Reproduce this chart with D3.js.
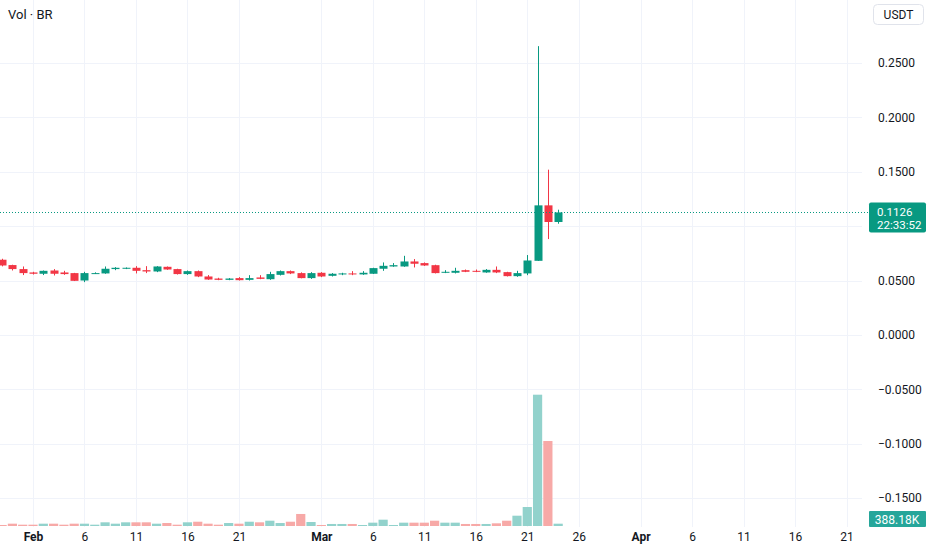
<!DOCTYPE html>
<html lang="en">
<head>
    <meta charset="UTF-8">
    <title>BR / USDT</title>
    <script src="https://d3js.org/d3.v7.min.js"></script>
    <style>
        body { margin: 0; background: #ffffff; }
        text { font-family: Roboto, "Noto Sans", sans-serif; }
    </style>
</head>
<body>
<script>
// daily candles, 2023-01-29 .. 2023-03-24
var dates = [
    "2023-01-29","2023-01-30","2023-01-31","2023-02-01","2023-02-02","2023-02-03","2023-02-04",
    "2023-02-05","2023-02-06","2023-02-07","2023-02-08","2023-02-09","2023-02-10","2023-02-11",
    "2023-02-12","2023-02-13","2023-02-14","2023-02-15","2023-02-16","2023-02-17","2023-02-18",
    "2023-02-19","2023-02-20","2023-02-21","2023-02-22","2023-02-23","2023-02-24","2023-02-25",
    "2023-02-26","2023-02-27","2023-02-28","2023-03-01","2023-03-02","2023-03-03","2023-03-04",
    "2023-03-05","2023-03-06","2023-03-07","2023-03-08","2023-03-09","2023-03-10","2023-03-11",
    "2023-03-12","2023-03-13","2023-03-14","2023-03-15","2023-03-16","2023-03-17","2023-03-18",
    "2023-03-19","2023-03-20","2023-03-21","2023-03-22","2023-03-23","2023-03-24"
];
var opens = [
    0.0691,0.0642,0.0605,0.0574,0.0562,0.0592,0.0574,
    0.0568,0.0500,0.0562,0.0565,0.0605,0.0608,0.0617,
    0.0595,0.0583,0.0626,0.0605,0.0559,0.0586,0.0537,
    0.0518,0.0506,0.0522,0.0506,0.0528,0.0512,0.0552,
    0.0586,0.0568,0.0522,0.0571,0.0543,0.0556,0.0565,
    0.0556,0.0562,0.0608,0.0629,0.0629,0.0675,0.0660,
    0.0641,0.0571,0.0571,0.0595,0.0589,0.0574,0.0598,
    0.0577,0.0540,0.0565,0.0681,0.1191,0.1038
];
var closes = [
    0.0638,0.0605,0.0568,0.0562,0.0589,0.0562,0.0559,
    0.0497,0.0568,0.0568,0.0608,0.0617,0.0617,0.0589,
    0.0583,0.0629,0.0601,0.0559,0.0586,0.0537,0.0509,
    0.0506,0.0518,0.0503,0.0522,0.0515,0.0559,0.0586,
    0.0565,0.0522,0.0568,0.0537,0.0562,0.0565,0.0556,
    0.0571,0.0614,0.0635,0.0641,0.0675,0.0654,0.0638,
    0.0568,0.0580,0.0589,0.0580,0.0580,0.0598,0.0574,
    0.0540,0.0568,0.0684,0.1191,0.1038,0.1126
];
var highs = [
    0.0700,0.0645,0.0629,0.0580,0.0592,0.0605,0.0589,
    0.0570,0.0580,0.0575,0.0629,0.0623,0.0620,0.0632,
    0.0632,0.0632,0.0629,0.0608,0.0592,0.0592,0.0550,
    0.0525,0.0522,0.0531,0.0549,0.0549,0.0580,0.0592,
    0.0592,0.0575,0.0577,0.0577,0.0568,0.0571,0.0586,
    0.0586,0.0617,0.0666,0.0660,0.0727,0.0697,0.0666,
    0.0645,0.0595,0.0617,0.0601,0.0601,0.0605,0.0629,
    0.0580,0.0589,0.0734,0.2655,0.1519,0.1151
];
var lows = [
    0.0630,0.0592,0.0550,0.0555,0.0550,0.0546,0.0552,
    0.0495,0.0485,0.0560,0.0562,0.0595,0.0605,0.0565,
    0.0568,0.0577,0.0598,0.0555,0.0552,0.0531,0.0506,
    0.0503,0.0503,0.0500,0.0500,0.0512,0.0506,0.0546,
    0.0559,0.0520,0.0515,0.0531,0.0537,0.0549,0.0549,
    0.0552,0.0560,0.0589,0.0626,0.0626,0.0620,0.0634,
    0.0565,0.0568,0.0565,0.0577,0.0577,0.0571,0.0568,
    0.0537,0.0534,0.0549,0.0680,0.0881,0.1022
];
// volume in thousands
var volumes = [
    170,390,220,220,390,390,220,
    390,390,220,620,390,620,620,
    620,390,500,220,620,720,390,
    220,500,390,720,620,890,500,
    720,2020,670,170,340,340,340,
    170,560,1060,170,560,560,560,
    890,560,560,340,340,340,450,
    890,1730,3190,22060,14280,388.18
];

// grid levels; 0.1000 is hidden under the last-price badge
var priceTicks = [-0.15, -0.1, -0.05, 0, 0.05, 0.1, 0.15, 0.2, 0.25];
var priceLabels = [-0.15, -0.1, -0.05, 0, 0.05, 0.15, 0.2, 0.25];
var dayTicks = [
    "2023-02-01","2023-02-06","2023-02-11","2023-02-16","2023-02-21",
    "2023-03-01","2023-03-06","2023-03-11","2023-03-16","2023-03-21","2023-03-26",
    "2023-04-01","2023-04-06","2023-04-11","2023-04-16","2023-04-21"
];
var lastPrice = 0.1126;
var countdown = "22:33:52";
var lastVolume = "388.18K";

var width = 932;
var height = 550;
var plotRight = 862;
var upColor = "#089981";
var downColor = "#f23645";
var upVol = "#92d2cc";
var downVol = "#f7a9a7";

var parse = d3.utcParse("%Y-%m-%d");
var data = dates.map(function(d, i) {
    return { date: parse(d), o: opens[i], c: closes[i], h: highs[i], l: lows[i], v: volumes[i] };
});

var svg = d3.select("body").append("svg").attr("width", width).attr("height", height);

var xScale = d3.scaleUtc()
    .domain([parse("2023-02-01"), parse("2023-04-21")])
    .range([33, 846.5]);

var yScale = d3.scaleLinear()
    .domain([-0.15, 0.25])
    .range([498, 63]);

var vScale = d3.scaleLinear()
    .domain([0, d3.max(volumes)])
    .range([526, 394.7]);

// grid
var grid = svg.append("g");
grid.selectAll(".vgrid")
    .data(dayTicks.map(parse))
    .enter()
    .append("line")
    .attr("x1", function(d) { return Math.round(xScale(d)) + 0.5; })
    .attr("x2", function(d) { return Math.round(xScale(d)) + 0.5; })
    .attr("y1", 0)
    .attr("y2", 527)
    .attr("stroke", "#f0f3fa");
grid.selectAll(".hgrid")
    .data(priceTicks)
    .enter()
    .append("line")
    .attr("x1", 0)
    .attr("x2", plotRight)
    .attr("y1", function(d) { return Math.round(yScale(d)) + 0.5; })
    .attr("y2", function(d) { return Math.round(yScale(d)) + 0.5; })
    .attr("stroke", "#f0f3fa");

// volume
svg.append("g")
    .selectAll("rect")
    .data(data)
    .enter()
    .append("rect")
    .attr("x", function(d) { return xScale(d.date) - 4.6; })
    .attr("y", function(d) { return vScale(d.v); })
    .attr("width", 9.2)
    .attr("height", function(d) { return vScale(0) - vScale(d.v); })
    .attr("fill", function(d) { return d.c >= d.o ? upVol : downVol; });

// candles
var candles = svg.append("g")
    .selectAll("g")
    .data(data)
    .enter()
    .append("g");

candles.append("line")
    .attr("x1", function(d) { return Math.round(xScale(d.date)) + 0.5; })
    .attr("x2", function(d) { return Math.round(xScale(d.date)) + 0.5; })
    .attr("y1", function(d) { return yScale(d.h); })
    .attr("y2", function(d) { return yScale(d.l); })
    .attr("stroke", function(d) { return d.c >= d.o ? upColor : downColor; });

candles.append("rect")
    .attr("x", function(d) { return Math.round(xScale(d.date)) - 3.5; })
    .attr("y", function(d) { return yScale(Math.max(d.o, d.c)); })
    .attr("width", 8)
    .attr("height", function(d) { return Math.max(1, Math.abs(yScale(d.o) - yScale(d.c))); })
    .attr("fill", function(d) { return d.c >= d.o ? upColor : downColor; });

// last price line
svg.append("line")
    .attr("x1", 0)
    .attr("x2", plotRight + 6)
    .attr("y1", Math.round(yScale(lastPrice)) + 0.5)
    .attr("y2", Math.round(yScale(lastPrice)) + 0.5)
    .attr("stroke", upColor)
    .attr("stroke-dasharray", "1,2");

// price axis
var axisY = d3.axisRight(yScale)
    .tickValues(priceLabels)
    .tickSize(0)
    .tickPadding(0)
    .tickFormat(d3.format(".4f"));

svg.append("g")
    .attr("transform", "translate(878,0)")
    .call(axisY)
    .call(function(g) { g.select(".domain").remove(); })
    .selectAll("text")
    .attr("font-size", 12)
    .attr("fill", "#131722");

// date axis
var monthFmt = d3.utcFormat("%b");
var dayFmt = d3.utcFormat("%-d");
var axisX = d3.axisBottom(xScale)
    .tickValues(dayTicks.map(parse))
    .tickSize(0)
    .tickPadding(0)
    .tickFormat(function(d) { return d.getUTCDate() === 1 ? monthFmt(d) : dayFmt(d); });

svg.append("g")
    .attr("transform", "translate(0,532)")
    .call(axisX)
    .call(function(g) { g.select(".domain").remove(); })
    .selectAll("text")
    .attr("font-size", 12)
    .attr("fill", "#131722")
    .attr("font-weight", function(d) { return d.getUTCDate() === 1 ? "bold" : "normal"; });

// last price badge: price and countdown in one two-line label
var py = yScale(lastPrice);
svg.append("rect")
    .attr("x", 869).attr("y", py - 10)
    .attr("width", 57).attr("height", 30)
    .attr("rx", 2)
    .attr("fill", upColor);
var badge = svg.append("text")
    .attr("font-size", 11.5).attr("fill", "#ffffff");
badge.append("tspan")
    .attr("x", 877).attr("y", py + 3.5)
    .text(d3.format(".4f")(lastPrice));
badge.append("tspan")
    .attr("x", 877).attr("y", py + 16.5)
    .text(countdown);

// last volume badge
svg.append("rect")
    .attr("x", 869).attr("y", 511)
    .attr("width", 57).attr("height", 16)
    .attr("rx", 1)
    .attr("fill", "#26a69a");
svg.append("text")
    .attr("x", 897).attr("y", 523.5)
    .attr("text-anchor", "middle")
    .attr("font-size", 12).attr("fill", "#ffffff")
    .text(lastVolume);

// currency box
svg.append("rect")
    .attr("x", 873.5).attr("y", 4.5)
    .attr("width", 50).attr("height", 20)
    .attr("rx", 4)
    .attr("fill", "#ffffff")
    .attr("stroke", "#e0e3eb");
svg.append("text")
    .attr("x", 898.5).attr("y", 19)
    .attr("text-anchor", "middle")
    .attr("font-size", 12).attr("fill", "#131722")
    .text("USDT");

// legend
svg.append("text")
    .attr("x", 8).attr("y", 19)
    .attr("font-size", 13).attr("fill", "#131722")
    .text("Vol · BR");
</script>
</body>
</html>
